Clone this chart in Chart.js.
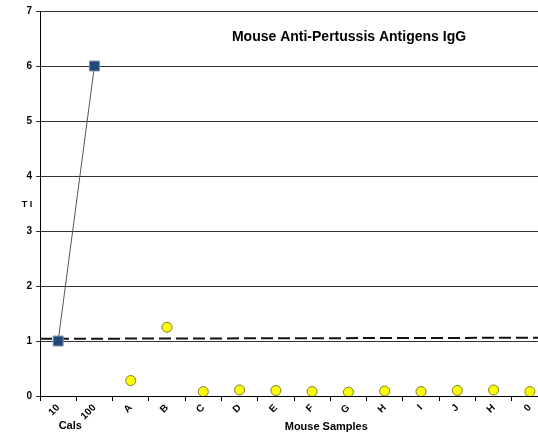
<!DOCTYPE html>
<html>
<head>
<meta charset="utf-8">
<script src="https://cdn.jsdelivr.net/npm/chart.js@4.4.0/dist/chart.umd.min.js"></script>
<style>
  html, body { margin: 0; padding: 0; background: #fff; overflow: hidden; }
  /* the sheet's plot runs a few pixels past the right edge of the picture */
  #wrap { width: 556px; height: 435px; position: relative; }
</style>
</head>
<body>
<div id="wrap"><canvas id="chart"></canvas></div>
<script>
const labels = ['10', '100', 'A', 'B', 'C', 'D', 'E', 'F', 'G', 'H', 'I', 'J', 'H', '0'];
const calValues = [1, 6, null, null, null, null, null, null, null, null, null, null, null, null];
const sampleValues = [null, null, 0.28, 1.25, 0.08, 0.11, 0.1, 0.08, 0.07, 0.09, 0.08, 0.1, 0.11, 0.08];
const cutoffX = [0, 1];
const cutoffY = [1.04, 1.06];
const yTicks = [0, 1, 2, 3, 4, 5, 6, 7];

const FONT = 'Liberation Sans, Arial, sans-serif';

// Title, group titles and the "T I" label sit inside/around the plot like in the sheet.
const annotations = {
  id: 'annotations',
  afterDraw(chart) {
    const { ctx, chartArea, scales } = chart;
    const x = scales.x;
    ctx.save();
    ctx.fillStyle = '#000';
    ctx.textAlign = 'center';
    ctx.textBaseline = 'middle';

    ctx.font = `bold 14px ${FONT}`;
    ctx.fillText('Mouse Anti-Pertussis Antigens IgG', 349, 37);

    ctx.font = `bold 11px ${FONT}`;
    ctx.fillText('Cals', (x.getPixelForValue(0) + x.getPixelForValue(1)) / 2 - 6, 426);
    ctx.fillText('Mouse Samples', (x.getPixelForValue(2) + x.getPixelForValue(13)) / 2 - 4, 427);

    ctx.font = `bold 9px ${FONT}`;
    ctx.fillText('T I', 27, (chartArea.top + chartArea.bottom) / 2 + 1);
    ctx.restore();
  },
};

new Chart(document.getElementById('chart'), {
  type: 'line',
  data: {
    labels,
    datasets: [
      {
        data: calValues,
        borderColor: '#555',
        borderWidth: 1,
        pointStyle: 'rect',
        pointRadius: 7,
        pointBackgroundColor: '#1F497D',
        pointBorderColor: '#7f8a99',
        pointBorderWidth: 1,
        spanGaps: false,
      },
      {
        data: sampleValues,
        showLine: false,
        pointStyle: 'circle',
        pointRadius: 5,
        pointBackgroundColor: '#FFFF00',
        pointBorderColor: '#7a7a30',
        pointBorderWidth: 1,
      },
      {
        data: cutoffX.map((x, i) => ({ x, y: cutoffY[i] })),
        xAxisID: 'x2',
        borderColor: '#111',
        borderWidth: 2,
        borderDash: [12, 5],
        pointRadius: 0,
      },
    ],
  },
  options: {
    responsive: true,
    maintainAspectRatio: false,
    animation: false,
    layout: { padding: { top: 11, right: 0, left: 0, bottom: 0 } },
    plugins: {
      legend: { display: false },
      tooltip: { enabled: false },
    },
    scales: {
      x: {
        type: 'category',
        offset: true,
        grid: {
          offset: true,
          drawOnChartArea: false,
          drawTicks: true,
          tickLength: 5,
          color: '#000',
        },
        border: { display: true, color: '#000', width: 1 },
        ticks: {
          autoSkip: false,
          maxRotation: 45,
          minRotation: 45,
          color: '#000',
          padding: 1,
          font: { family: FONT, size: 10, weight: 'bold' },
        },
        afterFit(scale) {
          scale.height = 39;
          scale.paddingLeft = 0;
          scale.paddingRight = 0;
        },
      },
      x2: {
        type: 'linear',
        display: false,
        min: 0,
        max: 1,
      },
      y: {
        min: 0,
        max: 7,
        afterBuildTicks(scale) { scale.ticks = yTicks.map((value) => ({ value })); },
        grid: {
          color: '#333',
          lineWidth: 1,
          drawTicks: true,
          tickLength: 4,
        },
        border: { display: true, color: '#000', width: 1 },
        ticks: {
          color: '#000',
          padding: 4,
          font: { family: FONT, size: 10, weight: 'bold' },
        },
        afterFit(scale) { scale.width = 40; },
      },
    },
  },
  plugins: [annotations],
});
</script>
</body>
</html>
